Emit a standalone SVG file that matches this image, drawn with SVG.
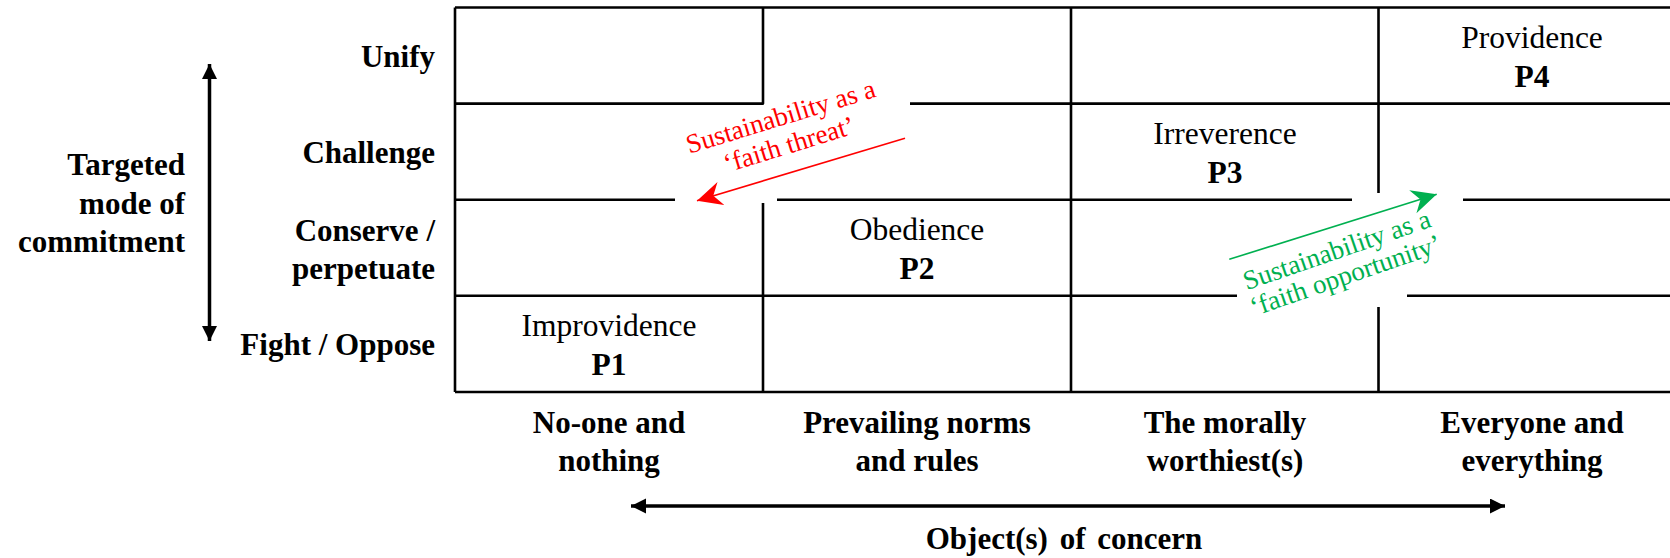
<svg xmlns="http://www.w3.org/2000/svg" width="1670" height="558" viewBox="0 0 1670 558">
  <style>
    .grid { stroke: #000; stroke-width: 2.6; fill: none; stroke-linejoin: round; }
    .lbl { font-family: "Liberation Serif", "Times New Roman", serif; font-size: 31px; font-weight: bold; fill: #000; }
    .end { text-anchor: end; }
    .mid { text-anchor: middle; }
    .cell { font-family: "Liberation Serif", "Times New Roman", serif; font-size: 31.5px; fill: #000; text-anchor: middle; }
    .code { font-weight: bold; }
    .note { font-family: "Liberation Serif", "Times New Roman", serif; font-size: 27px; text-anchor: middle; }
    .axis { stroke: #000; stroke-width: 3.5; fill: none; }
  </style>
  <defs>
    <marker id="arrowK" markerUnits="userSpaceOnUse" markerWidth="16" markerHeight="16" refX="15" refY="7.5" orient="auto-start-reverse">
      <path d="M0,0 L15,7.5 L0,15 z" fill="#000"/>
    </marker>
    <marker id="arrowR" markerUnits="userSpaceOnUse" markerWidth="26" markerHeight="26" refX="25" refY="12" orient="auto">
      <path d="M0,0 L25,12 L0,24 L8,12 z" fill="#ff0000"/>
    </marker>
    <marker id="arrowG" markerUnits="userSpaceOnUse" markerWidth="26" markerHeight="26" refX="25" refY="12" orient="auto">
      <path d="M0,0 L25,12 L0,24 L8,12 z" fill="#00b050"/>
    </marker>
  </defs>

  <g id="grid">
    <path class="grid" d="M455,7.5 H1670"/>
    <path class="grid" d="M455,392 H1670"/>
    <path class="grid" d="M455,7.5 V392"/>
    <path class="grid" d="M455,103.6 H763 V7.5"/>
    <path class="grid" d="M910,103.6 H1670"/>
    <path class="grid" d="M455,199.7 H675"/>
    <path class="grid" d="M777,199.7 H1352"/>
    <path class="grid" d="M1463,199.7 H1670"/>
    <path class="grid" d="M455,295.8 H1237"/>
    <path class="grid" d="M1407,295.8 H1670"/>
    <path class="grid" d="M763,203 V392"/>
    <path class="grid" d="M1071,7.5 V392"/>
    <path class="grid" d="M1378.5,7.5 V193"/>
    <path class="grid" d="M1378.5,307 V392"/>
  </g>

  <g id="row-labels" class="lbl end">
    <text x="435" y="67">Unify</text>
    <text x="435" y="163">Challenge</text>
    <text x="435" y="241">Conserve /</text>
    <text x="435" y="278.5">perpetuate</text>
    <text x="435" y="355">Fight / Oppose</text>
  </g>

  <g id="y-axis">
    <line class="axis" x1="209.5" y1="64" x2="209.5" y2="341" marker-start="url(#arrowK)" marker-end="url(#arrowK)"/>
    <text class="lbl end" x="185" y="175">Targeted</text>
    <text class="lbl end" x="185" y="213.5">mode of</text>
    <text class="lbl end" x="185" y="252">commitment</text>
  </g>

  <g id="p4">
    <text class="cell" x="1532" y="48">Providence</text>
    <text class="cell code" x="1532" y="87">P4</text>
  </g>
  <g id="p3">
    <text class="cell" x="1225" y="144">Irreverence</text>
    <text class="cell code" x="1225" y="183">P3</text>
  </g>
  <g id="p2">
    <text class="cell" x="917" y="240">Obedience</text>
    <text class="cell code" x="917" y="279">P2</text>
  </g>
  <g id="p1">
    <text class="cell" x="609" y="336">Improvidence</text>
    <text class="cell code" x="609" y="375">P1</text>
  </g>

  <g id="col-labels" class="lbl mid">
    <text x="609" y="433">No-one and</text>
    <text x="609" y="470.5">nothing</text>
    <text x="917" y="433">Prevailing norms</text>
    <text x="917" y="470.5">and rules</text>
    <text x="1225" y="433">The morally</text>
    <text x="1225" y="470.5">worthiest(s)</text>
    <text x="1532" y="433">Everyone and</text>
    <text x="1532" y="470.5">everything</text>
  </g>

  <g id="x-axis">
    <line class="axis" x1="631" y1="506" x2="1505" y2="506" marker-start="url(#arrowK)" marker-end="url(#arrowK)"/>
    <text class="lbl mid" x="1064" y="549" word-spacing="4">Object(s) of concern</text>
  </g>

  <g id="connectors">
    <line x1="905" y1="138.3" x2="697" y2="200.7" stroke="#ff0000" stroke-width="1.6" marker-end="url(#arrowR)"/>
    <line x1="1229.3" y1="259.3" x2="1436.7" y2="194.3" stroke="#00b050" stroke-width="1.6" marker-end="url(#arrowG)"/>
  </g>

  <g id="threat-label" transform="translate(787.5,139) rotate(-17)">
    <text class="note" fill="#ff0000" x="0" y="-14.5">Sustainability as a</text>
    <text class="note" fill="#ff0000" x="0" y="14.5">‘faith threat’</text>
  </g>

  <g id="opportunity-label" transform="translate(1344,271) rotate(-19)">
    <text class="note" fill="#00b050" x="0" y="-13.5">Sustainability as a</text>
    <text class="note" fill="#00b050" x="0" y="13.5">‘faith opportunity’</text>
  </g>
</svg>
